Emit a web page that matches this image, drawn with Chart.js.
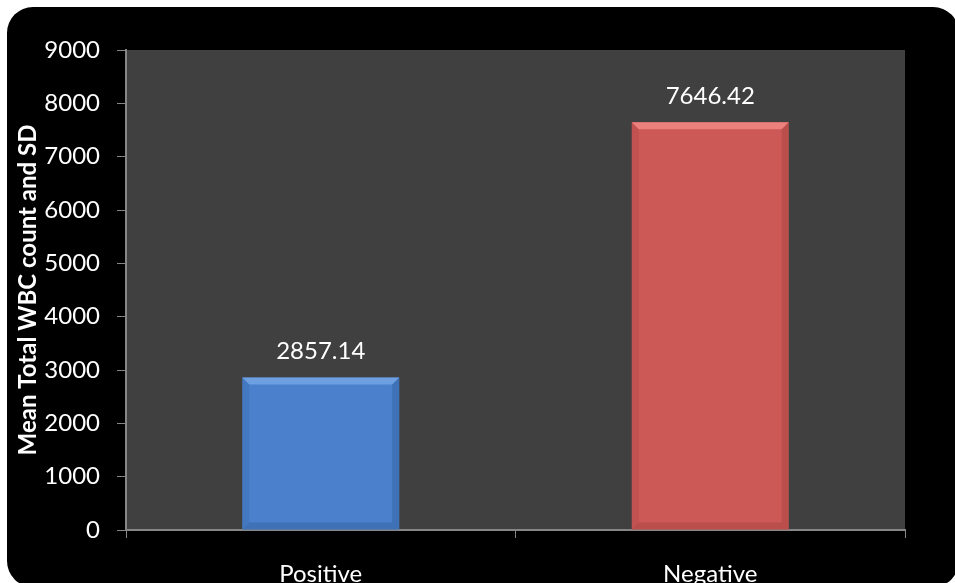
<!DOCTYPE html>
<html lang="en">
<head>
  <meta charset="UTF-8" />
  <title>Mean Total WBC count</title>
  <script src="https://cdn.jsdelivr.net/npm/chart.js"></script>
  <style>
    body {
      margin: 0;
      background: #fff;
      font-family: Lato, sans-serif;
    }

    #wrap {
      position: relative;
      width: 955px;
      height: 583px;
      overflow: hidden;
    }

    #frame {
      position: absolute;
      left: 7px;
      top: 7px;
      width: 952px;
      height: 580px;
      background: #000;
      border-radius: 26px;
    }

    canvas {
      position: absolute;
      left: 0;
      top: 0;
    }
  </style>
</head>
<body>
  <div id="wrap">
    <div id="frame"></div>
    <canvas id="wbcChart" width="955" height="583"></canvas>
  </div>

  <script>
    const groups = ['Positive', 'Negative'];
    const meanWbc = [2857.14, 7646.42];
    const yTicks = [0, 1000, 2000, 3000, 4000, 5000, 6000, 7000, 8000, 9000];

    // bar colours: main, light edge, dark edge
    const barColors = [
      ['#4a80cc', '#77a8e6', '#33609c'],
      ['#cd5957', '#f28a86', '#a2403e']
    ];

    const font = { family: 'Lato, sans-serif', size: 24 };

    // grey plot area
    const plotBg = {
      id: 'plotBg',
      beforeDraw(chart) {
        const { ctx, chartArea: a } = chart;
        ctx.save();
        ctx.fillStyle = '#404040';
        ctx.fillRect(a.left, a.top, a.right - a.left, a.bottom - a.top);
        ctx.restore();
      }
    };

    // bevel edges + value labels
    const barDecor = {
      id: 'barDecor',
      afterDatasetsDraw(chart) {
        const { ctx } = chart;
        const meta = chart.getDatasetMeta(0);
        meta.data.forEach((bar, i) => {
          const l = bar.x - bar.width / 2, r = bar.x + bar.width / 2;
          const t = bar.y, b = bar.base, d = 7;
          const c = barColors[i];
          ctx.save();
          // top light band
          ctx.fillStyle = c[1];
          ctx.globalAlpha = 0.8;
          ctx.beginPath();
          ctx.moveTo(l, t); ctx.lineTo(r, t); ctx.lineTo(r - d, t + d); ctx.lineTo(l + d, t + d);
          ctx.closePath(); ctx.fill();
          // side and bottom dark bands
          ctx.fillStyle = c[2];
          ctx.globalAlpha = 0.45;
          ctx.beginPath();
          ctx.moveTo(r, t); ctx.lineTo(r, b); ctx.lineTo(r - d, b - d); ctx.lineTo(r - d, t + d);
          ctx.closePath(); ctx.fill();
          ctx.beginPath();
          ctx.moveTo(l, b); ctx.lineTo(r, b); ctx.lineTo(r - d, b - d); ctx.lineTo(l + d, b - d);
          ctx.closePath(); ctx.fill();
          ctx.globalAlpha = 0.25;
          ctx.beginPath();
          ctx.moveTo(l, t); ctx.lineTo(l, b); ctx.lineTo(l + d, b - d); ctx.lineTo(l + d, t + d);
          ctx.closePath(); ctx.fill();
          ctx.restore();

          ctx.save();
          ctx.fillStyle = '#fff';
          ctx.font = `${font.size}px ${font.family}`;
          ctx.textAlign = 'center';
          ctx.textBaseline = 'middle';
          ctx.fillText(meanWbc[i].toFixed(2), bar.x, t - 26);
          ctx.restore();
        });
      }
    };

    new Chart(document.getElementById('wbcChart'), {
      type: 'bar',
      data: {
        labels: groups,
        datasets: [{
          label: 'Mean Total WBC count',
          data: meanWbc,
          backgroundColor: ctx => barColors[ctx.dataIndex][0],
          borderWidth: 0,
          categoryPercentage: 1,
          barPercentage: 0.403
        }]
      },
      options: {
        responsive: false,
        animation: false,
        layout: { padding: { top: 50, right: 50, left: 0, bottom: 0 } },
        plugins: {
          legend: { display: false },
          tooltip: { enabled: false }
        },
        scales: {
          x: {
            grid: {
              drawOnChartArea: false,
              drawTicks: true,
              tickLength: 8,
              color: '#868686',
              lineWidth: 1
            },
            border: { color: '#868686', width: 2 },
            ticks: { color: '#fff', font: font, padding: 22 },
            afterFit: s => { s.height = 53; }
          },
          y: {
            min: 0,
            max: 9000,
            afterBuildTicks: s => { s.ticks = yTicks.map(v => ({ value: v })); },
            grid: {
              drawOnChartArea: false,
              drawTicks: true,
              tickLength: 9,
              color: '#868686',
              lineWidth: 1
            },
            border: { color: '#868686', width: 2 },
            ticks: { color: '#fff', font: font, padding: 17, callback: v => String(v) },
            title: {
              display: true,
              text: 'Mean Total WBC count and SD',
              color: '#fff',
              font: { family: font.family, size: 24, weight: 'bold' },
              padding: { top: 14, bottom: 0 }
            },
            afterFit: s => { s.width = 126; }
          }
        }
      },
      plugins: [plotBg, barDecor]
    });
  </script>
</body>
</html>
